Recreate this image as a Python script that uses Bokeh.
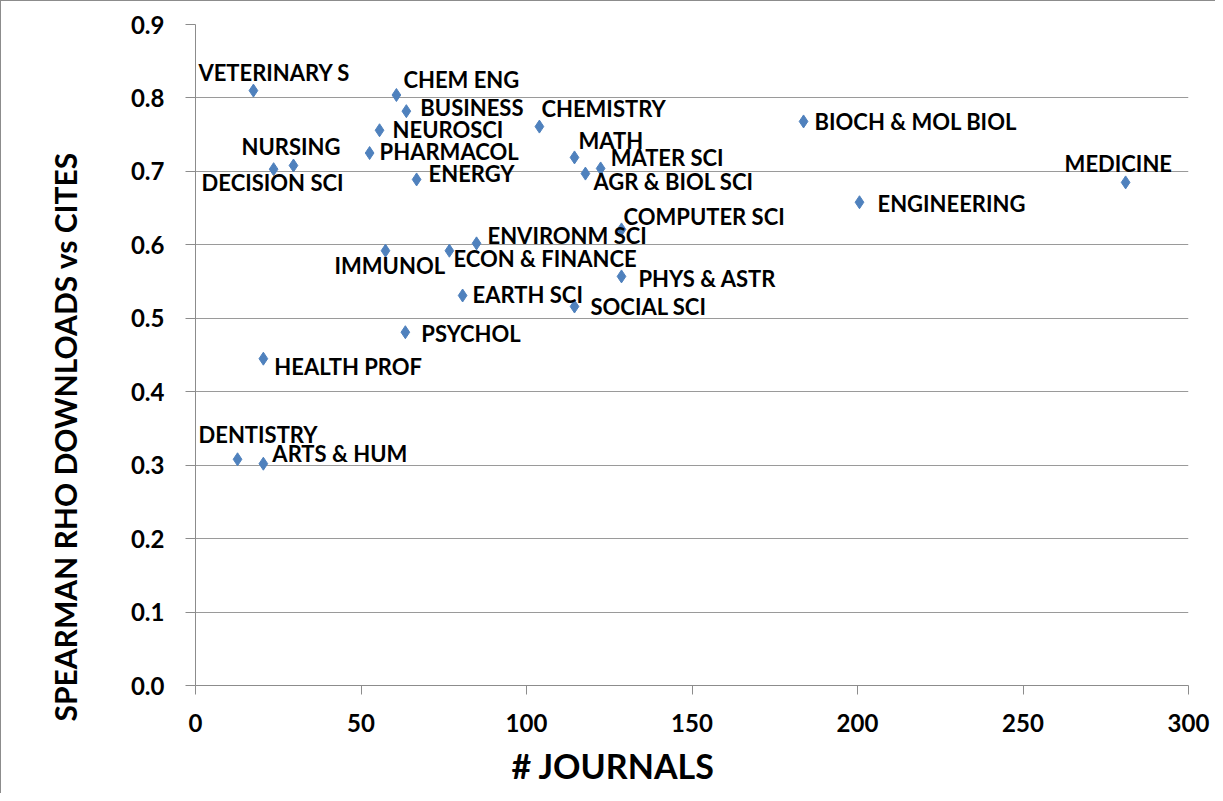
from bokeh.plotting import figure
from bokeh.models import ColumnDataSource, SingleIntervalTicker, Range1d, CustomJSTickFormatter, Title
from bokeh.embed import file_html
from bokeh.resources import INLINE
from bokeh.core.properties import value

# ---- data ----
subjects = ["VETERINARY S", "CHEM ENG", "BUSINESS", "CHEMISTRY", "BIOCH & MOL BIOL",
            "NEUROSCI", "MATH", "PHARMACOL", "NURSING", "DECISION SCI", "MATER SCI",
            "AGR & BIOL SCI", "ENERGY", "MEDICINE", "ENGINEERING", "COMPUTER SCI",
            "ENVIRONM SCI", "IMMUNOL", "ECON & FINANCE", "PHYS & ASTR", "EARTH SCI",
            "SOCIAL SCI", "PSYCHOL", "HEALTH PROF", "DENTISTRY", "ARTS & HUM"]
journals = [17.5, 60.7, 63.7, 103.9, 183.7,
            55.6, 114.5, 52.6, 29.6, 23.6, 122.4,
            117.8, 66.8, 281.0, 200.6, 128.7,
            84.9, 57.4, 76.7, 128.7, 80.7,
            114.5, 63.4, 20.5, 12.7, 20.5]
rho = [0.810, 0.804, 0.782, 0.761, 0.768,
       0.756, 0.719, 0.725, 0.708, 0.703, 0.704,
       0.697, 0.689, 0.685, 0.658, 0.621,
       0.602, 0.592, 0.592, 0.557, 0.531,
       0.516, 0.481, 0.445, 0.308, 0.302]
x_title = "# JOURNALS"
y_title = "SPEARMAN RHO DOWNLOADS vs CITES"

# ---- label placement (screen px offsets from each point) ----
label_dx = [-55, 7, 14, 2, 11,
            13, 4, 10, -52, -72, 10,
            8, 12, -61, 18, 2,
            11, -51, 4, 17, 10,
            16, 16, 11, -39, 9]
label_dy = [-18, -16, -4, -18, 0,
            -1, -17, -2, -19, 13, -11,
            8, -6, -19, 1, -13,
            -8, 15, 8, 2, -1,
            0, 1, 8, -25, -10]

FONT = "Lato"

src = ColumnDataSource(dict(x=journals, y=rho, name=subjects, dx=label_dx, dy=label_dy))

p = figure(width=1215, height=793, output_backend="svg", toolbar_location=None,
           x_range=Range1d(0, 300), y_range=Range1d(0, 0.9),
           min_border_left=194, min_border_right=28, min_border_top=23, min_border_bottom=109)
p.outline_line_color = None
p.background_fill_color = "white"
p.border_fill_color = "white"
p.styles = {"border-top": "1px solid #8c8c8c", "border-left": "1px solid #8c8c8c"}

p.xaxis.ticker = SingleIntervalTicker(interval=50)
p.yaxis.ticker = SingleIntervalTicker(interval=0.1)
p.xaxis.minor_tick_line_color = None
p.yaxis.minor_tick_line_color = None
p.xgrid.grid_line_color = None
p.ygrid.grid_line_color = "#9a9a9a"
p.ygrid.grid_line_width = 1
p.yaxis.formatter = CustomJSTickFormatter(code="return tick.toFixed(1);")

for ax in (p.xaxis[0], p.yaxis[0]):
    ax.axis_line_color = "#8c8c8c"
    ax.major_tick_line_color = "#8c8c8c"
    ax.major_tick_in = 0
    ax.major_label_text_font = FONT
    ax.major_label_text_font_style = "bold"
    ax.major_label_text_color = "black"

p.xaxis.major_tick_out = 9
p.yaxis.major_tick_out = 10
p.xaxis.major_label_text_font_size = "24px"
p.yaxis.major_label_text_font_size = "24px"
p.xaxis.major_label_standoff = 19
p.yaxis.major_label_standoff = 21

p.add_layout(Title(text=x_title, align="left", offset=316, standoff=16,
                   vertical_align="bottom",
                   text_font=FONT, text_font_style="bold", text_font_size="34px",
                   text_color="black"), "below")
p.add_layout(Title(text=y_title, align="left", offset=-36, standoff=87,
                   vertical_align="middle",
                   text_font=FONT, text_font_style="bold", text_font_size="30px",
                   text_color="black"), "left")

p.scatter("x", "y", source=src, marker="diamond", size=13, color="#4F81BD")
p.text("x", "y", text="name", source=src, x_offset="dx", y_offset="dy",
       text_font=value(FONT), text_font_style="bold", text_font_size="22px",
       text_align="left", text_baseline="middle", text_color="black")

open("out.html", "w").write(file_html(p, INLINE))
